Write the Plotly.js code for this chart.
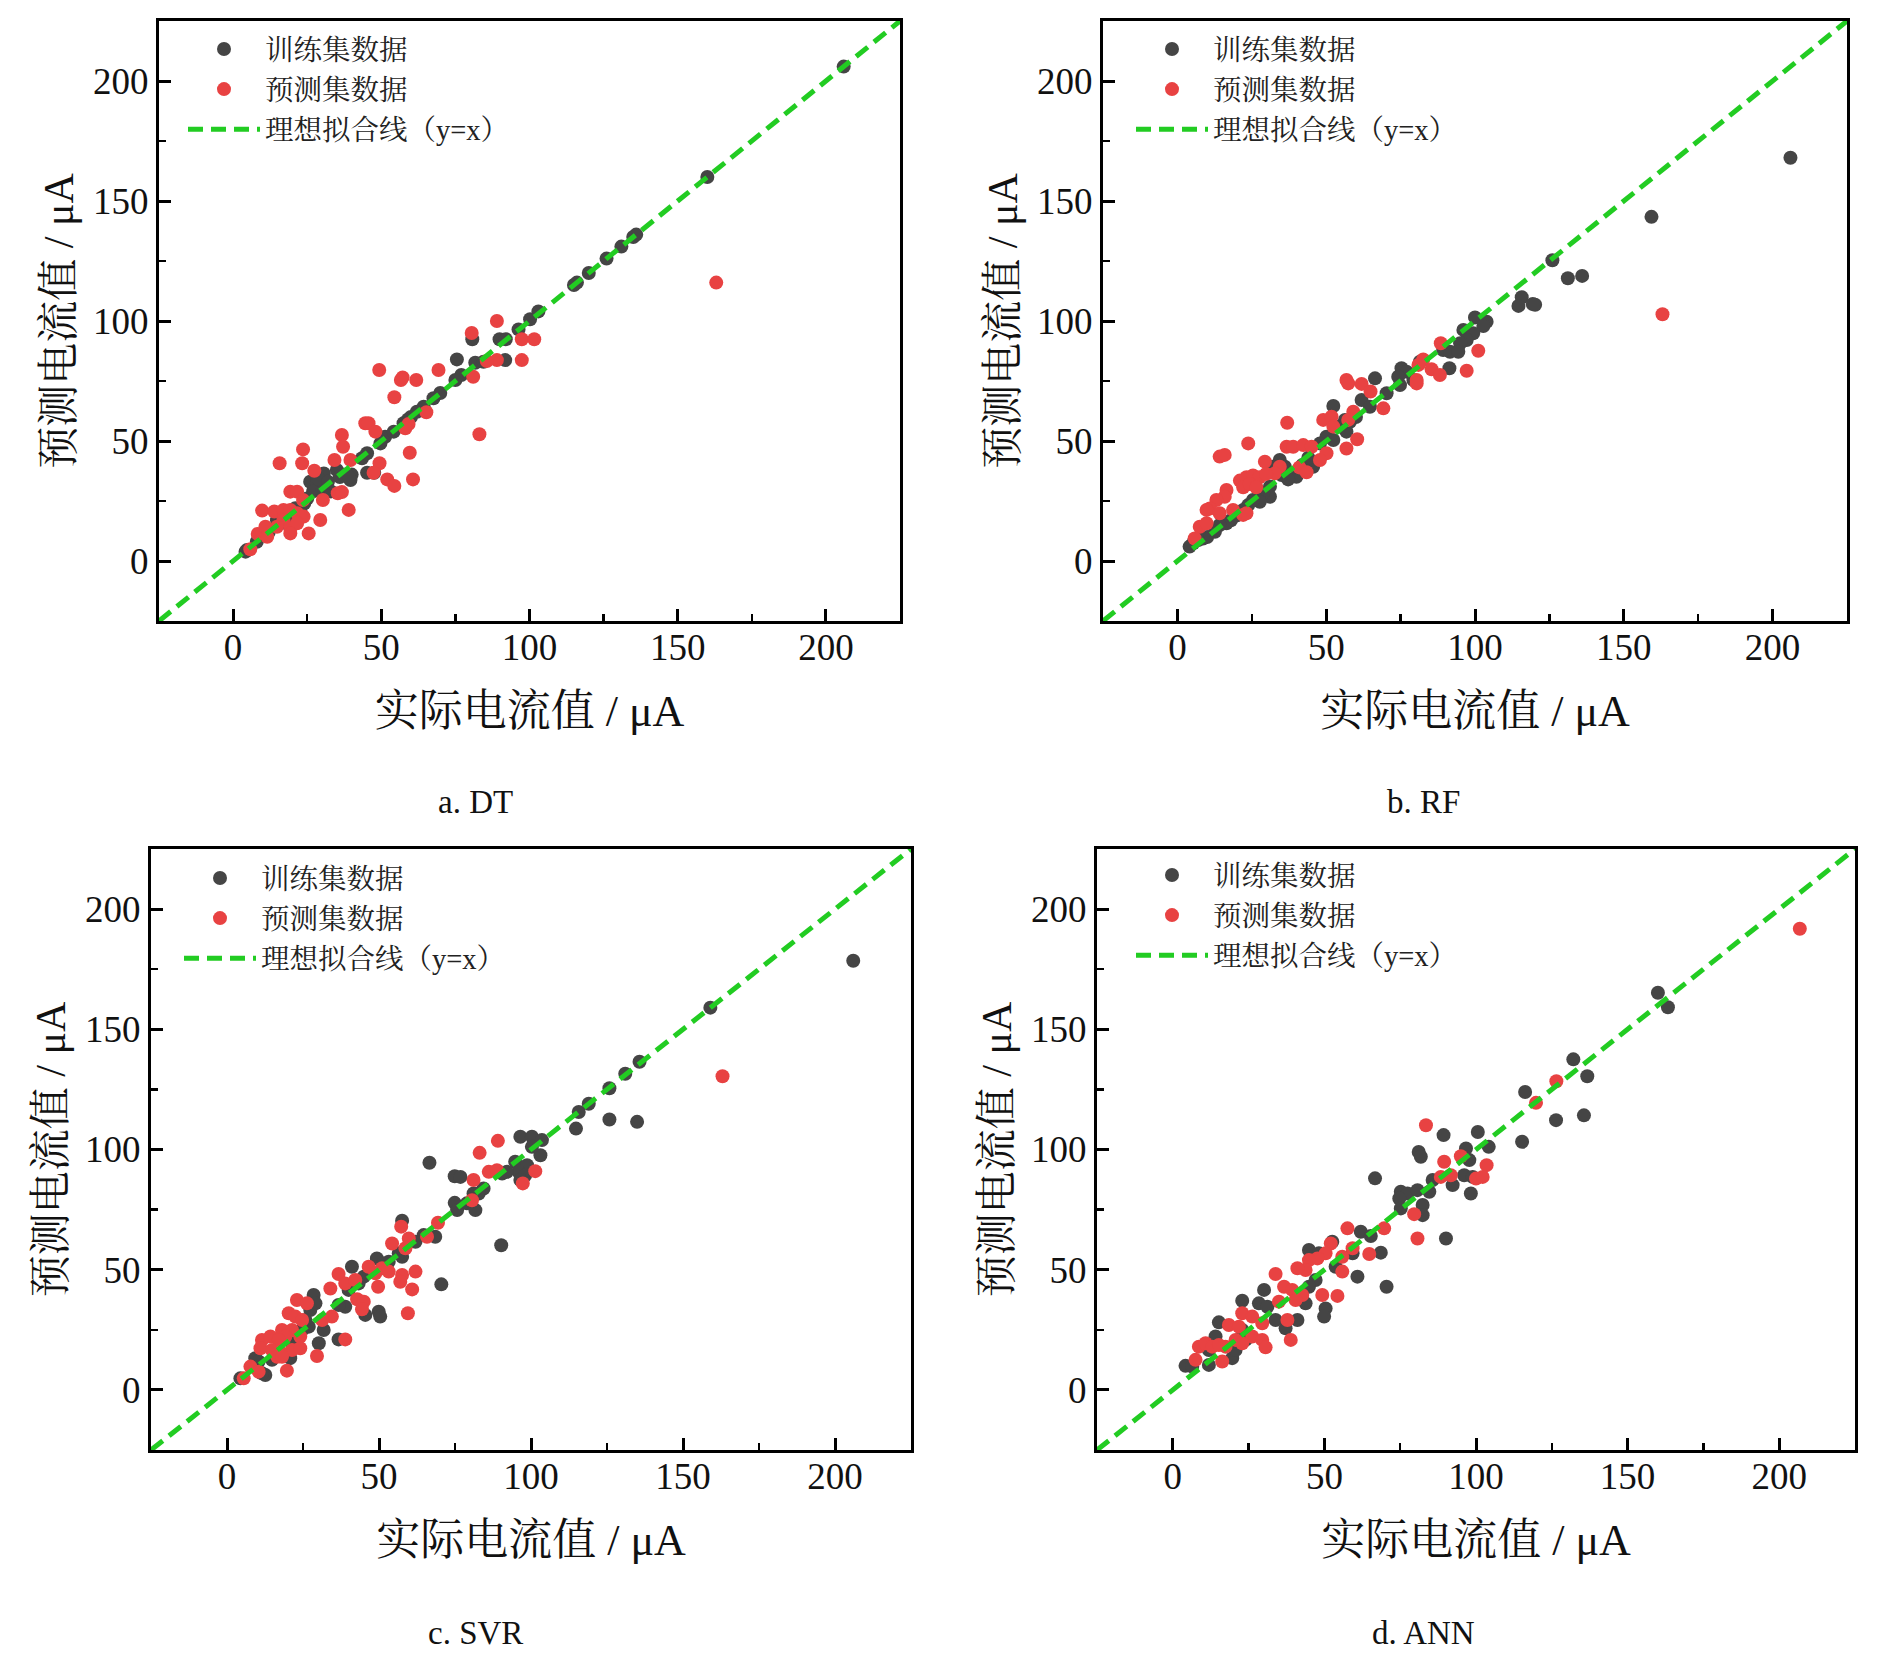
<!DOCTYPE html>
<html>
<head>
<meta charset="utf-8">
<script src="https://cdn.plot.ly/plotly-3.0.1.min.js"></script>
<style>
  html, body { margin: 0; padding: 0; background: #ffffff; }
  #chart { width: 1890px; height: 1658px; }
</style>
</head>
<body>
<div id="chart"></div>
<script>
// ---------------- DATA ----------------
const seriesNames = ['训练集数据', '预测集数据', '理想拟合线（y=x）'];
const panelCaptions = ['a. DT', 'b. RF', 'c. SVR', 'd. ANN'];
const xTitle = '实际电流值 / μA';
const yTitle = '预测电流值 / μA';
const axisRange = [-25, 225];
const idealLine = [-25, 225];
const tickValues = [0, 50, 100, 150, 200];
const tickLabels = ['0', '50', '100', '150', '200'];

// a. DT
const dtTrainX = [4.2,4.7,8,10.3,12,14.8,17,19.3,21,22.7,24,25,26,28.3,28.3,30.6,27,30,33,29,32,35,37,40,36,39.6,39,43.5,45.2,45.2,47.6,49.7,51.3,54.2,57.5,59,60,62,64.3,67.6,69.9,75,77,75.5,81.7,84.5,80.7,89.9,92,91.8,96.3,100.2,103,115,116,120,126,131,135,136,160,206];
const dtTrainY = [3.9,4.6,8,11.5,12,17,16,17,22,21,24,26,33,35.1,32.4,36.5,29,29,29,34,33,37.9,36,36,35,33.7,35,42.8,44.9,36.8,36.8,49,51.8,53.9,57.4,59,60,62.2,64.3,67.8,70,75.4,77.5,84,82.6,83,92.4,92.4,92.4,83.7,96.5,100.7,104,115,116,120,126,131,135,136,160,206];
const dtTestX = [89,80.5,97.4,101.6,89,85.6,97.4,81,49.3,57.2,56.6,61.8,69.3,54.4,65.2,83.1,44.6,45.7,59.2,58.1,48,36.7,37.1,23.6,34.2,39.6,59.6,49.4,47.4,52,54.4,60.7,15.7,23.3,27.4,35.3,36.7,30.3,39,29.4,25.5,9.8,13.9,19.3,21.6,23.6,17,19.3,21.6,23.8,17,14.8,19.3,21.6,19.3,8.3,10.9,11.5,5.8,163];
const dtTestY = [100,95,92.4,92.4,83.7,83.3,83.7,76.8,79.6,76.5,75.4,75.4,79.6,68.2,62,52.8,57.4,57.4,57.1,55.3,53.9,52.5,47.6,46.5,42.1,42.1,45.1,40.7,36.8,34,31.3,34,40.7,40.7,37.6,28.2,28.7,25.4,21.3,17.1,11.5,21,20.6,28.9,28.9,25.4,21.3,21.3,19.9,18.5,17,14.3,13.6,15.7,11.5,11.3,14.3,10.1,4.9,116];

// b. RF
const rfTrainX = [115.7,119.4,114.6,100,103.9,102.8,96.1,99.4,97.2,95,89.3,91.6,94.4,91.4,81.5,75.3,77,74.2,74.8,79.3,66.4,70.3,61.9,64.7,52.4,56.3,54.6,56.8,50.1,52.4,47.9,45.6,42,44,58,60,40,37.2,35,34.4,36.1,32.2,31.1,31.1,28.8,27.7,23.8,25.4,22.1,20,18,16.5,14.2,12.6,10,8.6,7,4.1,5.3,126,131.2,136,120.2,159.3,206];
const rfTrainY = [109.9,107.1,106.3,101.5,99.7,97.9,96.3,94.9,92.1,90.7,87.9,87.2,87.2,80.3,83,80.3,78.9,76.8,73.3,75.4,76.1,69.9,67.1,64.3,64.6,58.8,56,53.9,51.8,50.4,49,39.3,40,43,58,60,35.1,34,35.8,42.1,39.3,39.3,31,26.8,28.2,24.7,23.3,25.4,21.3,19,17,15.7,15,12.2,10,9.4,8.75,6,7.4,125.3,117.8,118.8,106.8,143.4,168];
const rfTestX = [88.5,101.1,97.2,82.6,81,85.4,88.2,80.4,80.4,56.8,57.4,61.9,64.9,69.2,59.1,57.4,49,51.8,52.4,60.4,56.8,36.9,23.8,14.2,15.9,29.4,36.7,38.9,42.3,45.1,50.1,47.9,41,43.4,34.4,32.7,21,23.2,25.4,27.6,29.8,22.1,24.3,26.5,16.5,15.9,13.1,10.9,9.8,14.2,18.7,22.1,23.2,7.5,9.8,5.8,163];
const rfTestY = [90.7,87.6,79.3,84,81.7,79.9,77.5,75.4,74,75.4,74,73.8,70.6,63.6,62.2,58.8,58.8,60.1,56,50.7,46.9,57.6,49,43.5,44.2,41.4,47.6,47.6,48.3,47.6,44.9,42.1,39,37,39.3,36.5,33.5,34.9,35.6,34.9,36.3,30.7,32.1,30.7,29.6,26.8,25.4,21.9,21.3,19.9,21.3,19.2,19.9,14.3,15.7,9.4,102.8];

// c. SVR
const svrTrainX = [115.7,114.8,96.5,100.3,103.6,103.1,100.3,94.8,98.7,95.9,98.1,96.5,90.5,92.1,66.6,74.9,76.8,84.4,82.8,81.1,78.9,81.7,74.9,75.7,90.2,70.5,57.6,68.5,64.7,62,57.6,56.5,53.2,49.3,51.5,41.1,45,43.3,45.5,49.9,50.4,40,38.9,36.7,28.5,29.1,27.4,31.8,30.2,36.7,25.8,26.9,24.7,21.4,20.8,9.3,10.4,14.8,12.6,11.5,4.4,119,125.8,131,135.7,125.8,134.9,159,206];
const svrTrainY = [115.6,108.7,105.3,105.3,103.9,97.6,101.1,94.9,93.5,90.7,89.3,87.3,90,90.7,94.5,88.9,88.6,83.8,81.7,81.7,77.6,74.8,77.8,74.8,60.2,43.9,70.4,63.7,64.4,61.6,55.4,56.8,53.3,54.7,52.6,51.2,47.1,44.3,31.2,32.5,30.5,41.6,34.6,35.3,39.5,36,33.2,24.9,19.4,21,29.1,26.3,24.9,19.4,13.2,13.2,11.8,12.5,6.2,6.9,4.8,119,125.5,131.5,136.5,112.5,111.5,159,178.5];
const svrTestX = [89.1,83.1,86.1,88.8,101.4,97.3,81.1,80.6,69.4,57.3,59.8,58.7,54.3,65.8,62,57.6,57,60.9,53.2,51,46.6,48.8,49.7,59.5,36.7,34,38.9,42.2,42.8,45,44.4,34.5,31.3,38.9,23,26.3,20.3,22.5,24.7,18.1,21.4,19.2,24.1,11.5,14.3,17,11,14.8,18.1,21.4,24.1,16.5,18.1,29.6,19.7,7.7,10.4,5.5,163];
const svrTestY = [103.6,98.6,90.7,91.4,91,85.9,87.3,78.9,69.5,67.9,63,58.9,60.9,63.7,49.2,47.8,45,41.8,49.2,50.6,51.2,48.5,42.9,31.9,48.2,42.2,44.3,45.7,37.7,36.7,33.5,30.5,29.1,21,37.4,36,31.9,30.5,29.1,24.9,24.9,22.2,22.2,20.8,22.2,20.8,17.3,16.6,15.2,16.6,17.3,13.8,13.8,14.1,8,9.7,7.6,4.8,130.5];

// d. ANN
const annTrainX = [115.2,100.6,104.2,89.3,81.1,81.8,96.7,97.8,96.1,98.9,98.3,92.3,85.7,84.6,66.7,75.2,77.4,74.7,80.7,82.4,82.4,75.2,90.1,68.6,70.5,60.9,62,65.3,59.3,52.6,53.7,44.9,48.2,47.1,44.9,43.8,50.4,49.9,41.1,37.2,30.1,28.4,31.2,22.9,33.9,15.2,22.9,24,14.1,11.9,19.6,20.7,11.9,4.2,6.4,116.2,132.1,126.4,136.7,135.6,160,163.3];
const annTrainY = [103.2,107.3,101.1,106,99,97,100.4,95.6,89.3,88.6,81.7,85.2,87.3,82.4,88,82.4,81.7,79.6,83.1,76.9,72.7,75.5,63,57.1,42.9,47.1,65.8,64,56.8,61.6,51.2,58.2,56.8,45.7,42.9,36,33.9,30.5,29.1,25.6,41.6,36,34.6,37.1,29.1,28.1,24.9,20.8,22.2,16.6,13.2,16.6,10.4,10,9.7,123.9,137.5,112.2,130.5,114.2,165.2,159.2];
const annTestX = [83.5,89.5,95,103.5,100,102.2,91.7,88.4,79.6,80.7,69.7,57.6,59.3,55.9,55.9,64.8,52.1,50.4,47.7,44.9,43.8,41.1,49.3,54.3,33.9,36.7,39.4,42.7,40.5,35,37.8,38.9,22.9,26.2,29.5,18.5,21.8,26.2,29.5,30.6,20.7,22.9,17.4,8.6,10.8,13,15.2,7.5,16.3,119.8,126.5,206.8];
const annTestY = [110.1,94.9,97.2,93.5,87.9,88.6,89.3,88.6,73.1,63,67.2,67.2,58.9,55.4,49.2,56.5,60.9,56.8,54.7,54,49.9,50.6,39.5,39.1,48.2,42.9,41.6,39.5,37.4,36.7,29.1,20.8,31.9,30.5,27.7,27,26.3,22.2,20.8,17.7,20.8,19.4,18,18,19.4,18,18.7,12.5,11.8,119.4,128.4,191.8];

// ---------------- STYLE / LAYOUT ----------------
const W = 1890, H = 1658;
const FONT = "'Liberation Serif', 'Noto Serif CJK SC', 'Noto Sans CJK SC', serif";
const COL_TRAIN = '#454545';
const COL_TEST = '#e84242';
const COL_LINE = '#22cc22';

// panel boxes in pixels: [left, right, top, bottom]
const boxes = [
  [159, 900, 21, 621],
  [1103, 1847, 21, 621],
  [151, 911, 849, 1450],
  [1097, 1855, 849, 1450]
];
const captionPos = [[475, 802], [1423, 802], [475, 1633], [1423, 1633]];
const legendOffset = [[24, 3], [28, 3], [28, 4], [34, 1]];

const panels = [
  [dtTrainX, dtTrainY, dtTestX, dtTestY],
  [rfTrainX, rfTrainY, rfTestX, rfTestY],
  [svrTrainX, svrTrainY, svrTestX, svrTestY],
  [annTrainX, annTrainY, annTestX, annTestY]
];

const data = [];
const layout = {
  width: W, height: H,
  margin: {l: 0, r: 0, t: 0, b: 0},
  paper_bgcolor: '#ffffff',
  plot_bgcolor: '#ffffff',
  font: {family: FONT, color: '#111111'},
  showlegend: true,
  annotations: []
};

panels.forEach((p, i) => {
  const n = i + 1;
  const xa = 'x' + (n === 1 ? '' : n);
  const ya = 'y' + (n === 1 ? '' : n);
  const lg = 'legend' + (n === 1 ? '' : n);
  const b = boxes[i];

  data.push({
    type: 'scatter', mode: 'markers', x: p[0], y: p[1], xaxis: xa, yaxis: ya,
    name: seriesNames[0], legend: lg,
    marker: {color: COL_TRAIN, size: 14, line: {width: 0}}
  });
  data.push({
    type: 'scatter', mode: 'markers', x: p[2], y: p[3], xaxis: xa, yaxis: ya,
    name: seriesNames[1], legend: lg,
    marker: {color: COL_TEST, size: 14, line: {width: 0}}
  });
  data.push({
    type: 'scatter', mode: 'lines', x: idealLine, y: idealLine, xaxis: xa, yaxis: ya,
    name: seriesNames[2], legend: lg,
    line: {color: COL_LINE, width: 5, dash: '15px,8px'}
  });

  const common = {
    range: axisRange, autorange: false,
    showgrid: false, zeroline: false,
    showline: true, linecolor: '#000000', linewidth: 3, mirror: true,
    ticks: 'inside', ticklen: 12, tickwidth: 3, tickcolor: '#000000',
    tickmode: 'array', tickvals: tickValues, ticktext: tickLabels,
    tickfont: {family: FONT, size: 37, color: '#111111'},
    minor: {dtick: 25, tick0: 0, ticks: 'inside', ticklen: 7, tickwidth: 2.5, tickcolor: '#000000', showgrid: false}
  };

  layout['xaxis' + (n === 1 ? '' : n)] = Object.assign({}, common, {
    domain: [b[0] / W, b[1] / W],
    anchor: ya,
    ticklabelstandoff: -8,
    title: {text: xTitle, font: {family: FONT, size: 44, color: '#111111'}, standoff: 28}
  });
  layout['yaxis' + (n === 1 ? '' : n)] = Object.assign({}, common, {
    domain: [1 - b[3] / H, 1 - b[2] / H],
    anchor: xa,
    ticklabelstandoff: 0,
    title: {text: yTitle, font: {family: FONT, size: 42, color: '#111111'}, standoff: 7}
  });

  layout[lg] = {
    x: (b[0] + legendOffset[i][0]) / W,
    y: 1 - (b[2] + legendOffset[i][1]) / H,
    xanchor: 'left', yanchor: 'top',
    bgcolor: 'rgba(0,0,0,0)', borderwidth: 0,
    font: {family: FONT, size: 28.5, color: '#222222'},
    itemwidth: 72,
    tracegroupgap: 0
  };

  layout.annotations.push({
    xref: 'paper', yref: 'paper',
    x: captionPos[i][0] / W, y: 1 - captionPos[i][1] / H,
    xanchor: 'center', yanchor: 'middle',
    text: panelCaptions[i], showarrow: false,
    font: {family: FONT, size: 33, color: '#111111'}
  });
});

Plotly.newPlot('chart', data, layout, {staticPlot: true, displayModeBar: false});
</script>
</body>
</html>
